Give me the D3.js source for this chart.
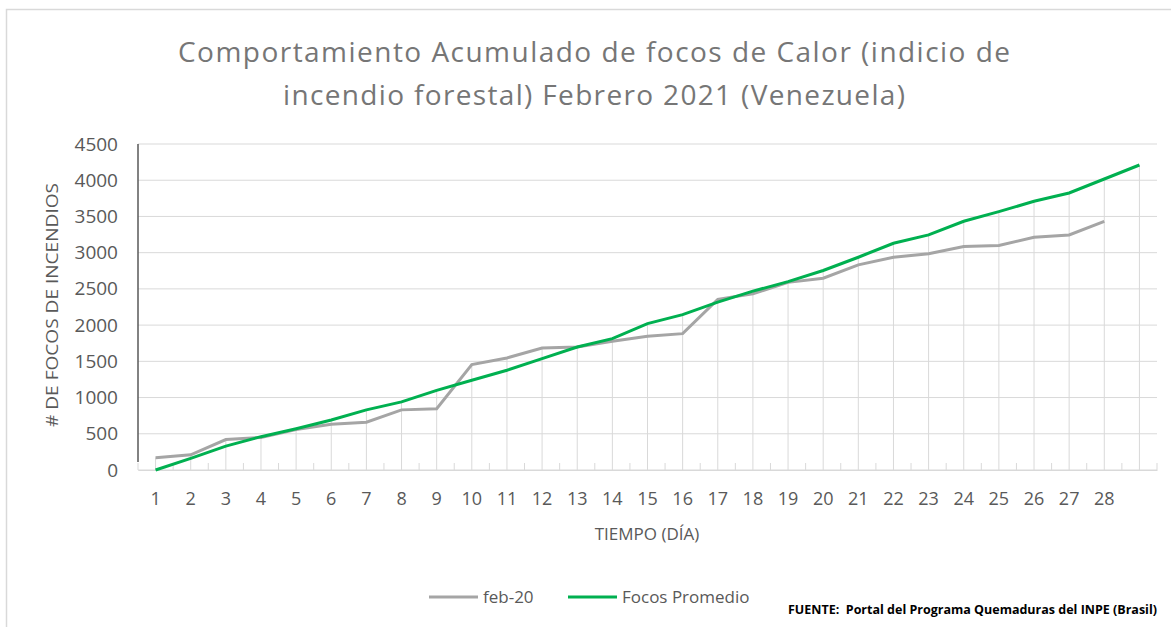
<!DOCTYPE html>
<html>
<head>
<meta charset="utf-8">
<script src="https://cdn.jsdelivr.net/npm/d3@7"></script>
<style>
  body { margin: 0; background: #fff; }
  text { font-family: "Open Sans", sans-serif; }
</style>
</head>
<body>
<div class="chart"></div>
<script>
var days = ["1","2","3","4","5","6","7","8","9","10","11","12","13","14","15",
            "16","17","18","19","20","21","22","23","24","25","26","27","28","29"];
var dayLabels = ["1","2","3","4","5","6","7","8","9","10","11","12","13","14","15",
                 "16","17","18","19","20","21","22","23","24","25","26","27","28",""];
var feb20 = [170, 210, 420, 450, 560, 630, 660, 830, 845, 1455, 1547, 1684, 1697, 1776,
             1845, 1882, 2355, 2433, 2590, 2648, 2832, 2937, 2984, 3084, 3098, 3213, 3245, 3433];
var promedio = [0, 160, 330, 460, 570, 690, 830, 940, 1100, 1239, 1377, 1538, 1698, 1813,
                2020, 2144, 2318, 2469, 2600, 2754, 2937, 3130, 3245, 3433, 3566, 3709, 3824, 4017, 4210];
var yTicks = [0, 500, 1000, 1500, 2000, 2500, 3000, 3500, 4000, 4500];

var width = 1171,
    height = 627;

var svg = d3.select(".chart").append("svg")
    .attr("width", width)
    .attr("height", height);

// chart border (only left and top show in the crop)
svg.append("path")
    .attr("d", "M6.5,627V9.5H1171")
    .attr("fill", "none")
    .attr("stroke", "#d9d9d9")
    .attr("stroke-width", 1.5);

var x = d3.scaleBand()
    .domain(days)
    .range([138, 1157]);

var y = d3.scaleLinear()
    .domain([0, 4500])
    .range([470, 144]);

var cx = function(d) { return x(d) + x.bandwidth() / 2; };

// horizontal gridlines
svg.append("g")
    .selectAll("line")
    .data(yTicks)
    .enter()
    .append("line")
    .attr("x1", 138).attr("x2", 1157)
    .attr("y1", function(d){ return y(d); })
    .attr("y2", function(d){ return y(d); })
    .attr("stroke", "#d9d9d9")
    .attr("stroke-width", 1);

// drop lines from highest point to the axis
svg.append("g")
    .selectAll("line")
    .data(days)
    .enter()
    .append("line")
    .attr("x1", cx).attr("x2", cx)
    .attr("y1", y(0))
    .attr("y2", function(d, i){
      var v = promedio[i];
      if (i < feb20.length) v = Math.max(v, feb20[i]);
      return y(v);
    })
    .attr("stroke", "#d9d9d9")
    .attr("stroke-width", 1);

// x axis with inside ticks at category boundaries
var bounds = days.map(function(d){ return x(d); }).concat([1157]);
svg.append("g")
    .selectAll("line")
    .data(bounds)
    .enter()
    .append("line")
    .attr("x1", function(d){ return d; }).attr("x2", function(d){ return d; })
    .attr("y1", y(0)).attr("y2", y(0) - 7)
    .attr("stroke", "#d9d9d9")
    .attr("stroke-width", 1);

var xAxis = svg.append("g")
    .attr("transform", "translate(0," + y(0) + ")")
    .call(d3.axisBottom(x).tickSize(0).tickPadding(22)
      .tickFormat(function(d, i){ return dayLabels[i]; }));
xAxis.select(".domain").attr("stroke", "#d9d9d9");
xAxis.selectAll("text")
    .attr("fill", "#595959")
    .style("font-size", "18px");

// y axis
var yAxis = svg.append("g")
    .attr("transform", "translate(138,0)")
    .call(d3.axisLeft(y).tickValues(yTicks).tickSize(0).tickPadding(20)
      .tickFormat(d3.format("d")));
yAxis.select(".domain").remove();
yAxis.selectAll("text")
    .attr("fill", "#595959")
    .style("font-size", "19px");

svg.append("line")
    .attr("x1", 138).attr("x2", 138)
    .attr("y1", y(4500)).attr("y2", 462)
    .attr("stroke", "#595959")
    .attr("stroke-width", 1.5);

// series
var line = d3.line()
    .x(function(d, i){ return cx(days[i]); })
    .y(function(d){ return y(d); });

svg.append("path")
    .datum(feb20)
    .attr("d", line)
    .attr("fill", "none")
    .attr("stroke", "#a5a5a5")
    .attr("stroke-width", 3);

svg.append("path")
    .datum(promedio)
    .attr("d", line)
    .attr("fill", "none")
    .attr("stroke", "#00b050")
    .attr("stroke-width", 3);

// titles
svg.append("text")
    .attr("x", 594).attr("y", 62)
    .attr("text-anchor", "middle")
    .attr("fill", "#767676")
    .style("font-size", "28px")
    .attr("textLength", 832)
    .attr("lengthAdjust", "spacing")
    .text("Comportamiento Acumulado de focos de Calor (indicio de");

svg.append("text")
    .attr("x", 594).attr("y", 105)
    .attr("text-anchor", "middle")
    .attr("fill", "#767676")
    .style("font-size", "28px")
    .attr("textLength", 622)
    .attr("lengthAdjust", "spacing")
    .text("incendio forestal) Febrero 2021 (Venezuela)");

svg.append("text")
    .attr("transform", "translate(58,305) rotate(-90)")
    .attr("text-anchor", "middle")
    .attr("fill", "#595959")
    .style("font-size", "17px")
    .attr("textLength", 244)
    .attr("lengthAdjust", "spacingAndGlyphs")
    .text("# DE FOCOS DE INCENDIOS");

svg.append("text")
    .attr("x", 647).attr("y", 540)
    .attr("text-anchor", "middle")
    .attr("fill", "#595959")
    .style("font-size", "17px")
    .text("TIEMPO (DÍA)");

// legend
var legend = [
  {name: "feb-20", color: "#a5a5a5", x: 429},
  {name: "Focos Promedio", color: "#00b050", x: 568}
];
var lg = svg.append("g")
    .selectAll("g")
    .data(legend)
    .enter()
    .append("g")
    .attr("transform", function(d){ return "translate(" + d.x + ",597)"; });
lg.append("line")
    .attr("x1", 0).attr("x2", 49)
    .attr("stroke", function(d){ return d.color; })
    .attr("stroke-width", 3);
lg.append("text")
    .attr("x", 54).attr("y", 6)
    .attr("fill", "#595959")
    .style("font-size", "17px")
    .text(function(d){ return d.name; });

svg.append("text")
    .attr("x", 788).attr("y", 614)
    .attr("fill", "#000")
    .style("font-size", "12px")
    .style("font-weight", "bold")
    .style("white-space", "pre")
    .attr("textLength", 369)
    .attr("lengthAdjust", "spacingAndGlyphs")
    .text("FUENTE:  Portal del Programa Quemaduras del INPE (Brasil)");
</script>
</body>
</html>
